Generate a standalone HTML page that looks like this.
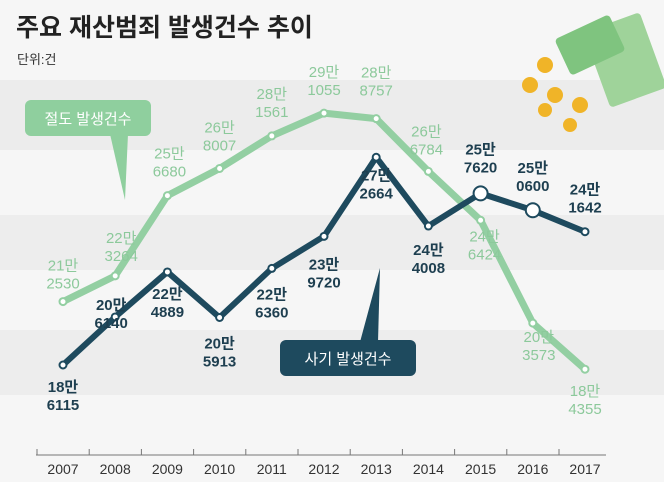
<!DOCTYPE html>
<html><head><meta charset="utf-8"><style>
body{margin:0;width:664px;height:482px;overflow:hidden;background:#f6f6f6;font-family:"Liberation Sans","Noto Sans CJK KR",sans-serif}
svg{display:block}
</style></head><body>
<svg id="chart" width="664" height="482" viewBox="0 0 664 482" font-family="Liberation Sans, Noto Sans CJK KR, sans-serif">
<rect x="0" y="80" width="664" height="70" fill="#ececec"/>
<rect x="0" y="215" width="664" height="55" fill="#ededed"/>
<rect x="0" y="330" width="664" height="65" fill="#ededed"/>
<text x="16" y="36" font-size="25" font-weight="bold" fill="#222">주요 재산범죄 발생건수 추이</text>
<text x="17" y="64" font-size="13" fill="#333">단위:건</text>
<g>
<rect x="595" y="20" width="60" height="80" rx="4" fill="#9fd39a" transform="rotate(-20 625 60)"/>
<rect x="560" y="25" width="60" height="40" rx="4" fill="#7fc47f" transform="rotate(-25 590 45)"/>
<circle cx="545" cy="65" r="8" fill="#f0b428"/><circle cx="530" cy="85" r="8" fill="#f0b428"/><circle cx="555" cy="95" r="8" fill="#f0b428"/><circle cx="580" cy="105" r="8" fill="#f0b428"/><circle cx="545" cy="110" r="7" fill="#f0b428"/><circle cx="570" cy="125" r="7" fill="#f0b428"/>
</g>
<g>
<path d="M110 134 L125 200 L128 134 Z" fill="#8fcf9e"/>
<rect x="25" y="100" width="126" height="36" rx="6" fill="#8fcf9e"/>
<text x="88" y="124" font-size="15" fill="#fff" text-anchor="middle">절도 발생건수</text>
</g>
<g>
<path d="M360 342 L380 268 L378 342 Z" fill="#1e4a5e"/>
<rect x="280" y="340" width="136" height="36" rx="6" fill="#1e4a5e"/>
<text x="348" y="364" font-size="15" fill="#fff" text-anchor="middle">사기 발생건수</text>
</g>
<g id="axis"></g>
<g id="series"></g>
</svg>
<script>
const years=["2007","2008","2009","2010","2011","2012","2013","2014","2015","2016","2017"];
const theft=[212530,223264,256680,268007,281561,291055,288757,266784,246424,203573,184355];
const fraud=[186115,206140,224889,205913,226360,239720,272664,244008,257620,250600,241642];
const theftOff=[[0,-28],[6,-30],[2,-34],[0,-33],[0,-34],[0,-33],[0,-38],[-2,-32],[4,24],[6,22],[0,30]];
const fraudOff=[[0,30],[-4,-4],[0,30],[0,34],[0,34],[0,36],[0,26],[0,32],[0,-36],[0,-34],[0,-34]];
const NS="http://www.w3.org/2000/svg";
const xS=i=>63+i*52.2;
const yS=v=>365-(v-186115)*0.0024;
const fmt=v=>[Math.floor(v/10000)+"만",String(v%10000).padStart(4,"0")];
const axis=document.getElementById('axis'),ser=document.getElementById('series');
function mk(t,a,p){const e=document.createElementNS(NS,t);for(const k in a)e.setAttribute(k,a[k]);p.appendChild(e);return e;}
mk('line',{x1:36,y1:455,x2:606,y2:455,stroke:'#777','stroke-width':1},axis);
years.forEach((y,i)=>{
  const x=xS(i);
  mk('line',{x1:x-26,y1:449,x2:x-26,y2:455,stroke:'#777'},axis);
  const t=mk('text',{x:x,y:474,'font-size':14,'text-anchor':'middle',fill:'#333'},axis);
  
  
  t.textContent=y;
});
function draw(data,offs,color,txt,w,name,bold){
  const pts=data.map((v,i)=>xS(i)+","+yS(v)).join(" ");
  const pl=mk('polyline',{points:pts,fill:'none',stroke:color,'stroke-width':w,'stroke-linejoin':'round','stroke-linecap':'round'},ser);
  
  
  data.forEach((v,i)=>{
    const c=mk('circle',{cx:xS(i),cy:yS(v),r:(name=='fraud'&&(i==8||i==9))?7:3.5,fill:'#fff',stroke:color,'stroke-width':2},ser);
    
    
    const [a,b]=fmt(v);const lx=xS(i)+offs[i][0],ly=yS(v)+offs[i][1];
    const t=mk('text',{x:lx,y:ly-3,'font-size':15,'text-anchor':'middle',fill:txt,'font-weight':bold?'bold':'normal'},ser);
    
    
    t.textContent=a;
    mk('text',{x:lx,y:ly+15,'font-size':15,'text-anchor':'middle',fill:txt,'font-weight':bold?'bold':'normal'},ser).textContent=b;
  });
}
draw(theft,theftOff,'#93cfa2','#8cc99b',7,'theft',false);
draw(fraud,fraudOff,'#1e4a5e','#1e3f50',6,'fraud',true);
</script>
</body></html>
